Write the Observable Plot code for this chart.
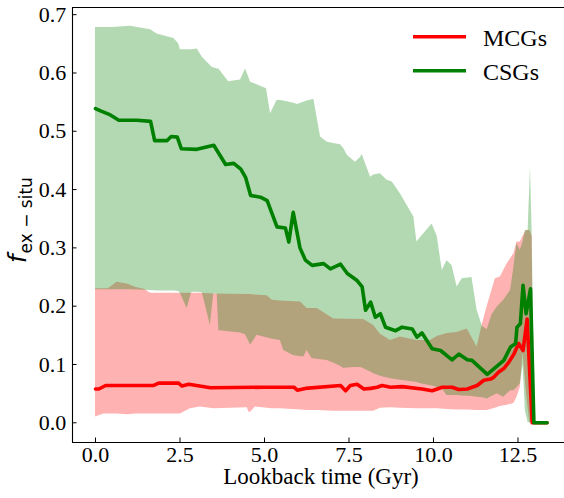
<!DOCTYPE html>
<html>
<head>
<meta charset="utf-8">
<script src="https://cdn.jsdelivr.net/npm/d3@7"></script>
<script src="https://cdn.jsdelivr.net/npm/@observablehq/plot@0.6"></script>
<style>
  html, body { margin: 0; padding: 0; background: white; }
  #chart { width: 564px; height: 498px; }
</style>
</head>
<body>
<div id="chart"></div>
<script>
// ---------- data ----------
const seriesNames = ["MCGs", "CSGs"];
const seriesColors = ["#ff0000", "#008000"];

const xTicks = [0, 2.5, 5, 7.5, 10, 12.5];
const yTicks = [0, 0.1, 0.2, 0.3, 0.4, 0.5, 0.6, 0.7];
const xLabel = "Lookback time (Gyr)";

// MCGs median
const mcgX = [0, 0.1, 0.3, 1.72, 1.87, 2.46, 2.56, 2.76, 3.4, 4.98,
  5.87, 5.97, 6.21, 7.25, 7.40, 7.54, 7.74, 7.94, 8.14, 8.33,
  8.48, 8.73, 9.07, 9.66, 9.96, 10.26, 10.55, 10.75, 11.0, 11.29,
  11.49, 11.69, 11.78, 11.93, 12.08, 12.23, 12.38, 12.52, 12.65, 12.77,
  12.92, 13.36];
const mcgMedian = [0.058, 0.058, 0.064, 0.064, 0.068, 0.068, 0.063, 0.066, 0.060, 0.061,
  0.061, 0.056, 0.059, 0.064, 0.055, 0.064, 0.066, 0.058, 0.059, 0.061,
  0.064, 0.061, 0.062, 0.058, 0.055, 0.061, 0.061, 0.057, 0.058, 0.064,
  0.073, 0.075, 0.078, 0.087, 0.093, 0.104, 0.118, 0.136, 0.124, 0.178,
  0.000, 0.000];

// CSGs median
const csgX = [0, 0.15, 0.44, 0.69, 1.23, 1.63, 1.75, 2.12, 2.24, 2.42,
  2.54, 3.0, 3.5, 3.85, 4.09, 4.3, 4.44, 4.59, 4.88, 5.08,
  5.37, 5.62, 5.72, 5.85, 6.05, 6.21, 6.41, 6.75, 6.95, 7.25,
  7.45, 7.74, 7.89, 7.99, 8.14, 8.28, 8.43, 8.58, 8.88, 9.07,
  9.37, 9.51, 9.66, 9.96, 10.21, 10.55, 10.75, 11.0, 11.14, 11.59,
  11.88, 12.08, 12.28, 12.43, 12.47, 12.57, 12.65, 12.74, 12.87, 12.97,
  13.36];
const csgMedian = [0.539, 0.535, 0.528, 0.519, 0.519, 0.517, 0.484, 0.484, 0.491, 0.490,
  0.470, 0.469, 0.476, 0.443, 0.445, 0.435, 0.421, 0.390, 0.387, 0.381,
  0.336, 0.334, 0.310, 0.361, 0.300, 0.279, 0.270, 0.273, 0.264, 0.272,
  0.256, 0.244, 0.233, 0.193, 0.207, 0.181, 0.187, 0.164, 0.158, 0.164,
  0.161, 0.147, 0.154, 0.127, 0.124, 0.108, 0.118, 0.108, 0.107, 0.083,
  0.097, 0.107, 0.130, 0.136, 0.164, 0.170, 0.236, 0.187, 0.230, 0.000,
  0.000];

// MCGs scatter band
const mcgBandX = [0, 0.25, 0.38, 0.64, 0.94, 1.2, 1.45, 1.63, 2.12, 2.51,
  2.81, 3.1, 3.5, 4.49, 4.54, 4.59, 4.73, 5.08, 5.23, 5.47,
  6.07, 6.26, 6.56, 7.05, 7.94, 8.23, 8.43, 8.73, 9.02, 9.51,
  9.91, 10.11, 10.40, 10.70, 11.0, 11.29, 11.45, 11.59, 11.83, 11.98,
  12.18, 12.38, 12.47, 12.57, 12.65, 12.75, 12.85, 12.92, 12.97, 13.36];
const mcgLow = [0.010, 0.015, 0.015, 0.015, 0.014, 0.015, 0.015, 0.015, 0.015, 0.015,
  0.024, 0.027, 0.024, 0.026, 0.018, 0.018, 0.027, 0.025, 0.024, 0.024,
  0.022, 0.021, 0.021, 0.020, 0.020, 0.020, 0.025, 0.026, 0.025, 0.024,
  0.024, 0.024, 0.023, 0.022, 0.022, 0.021, 0.021, 0.021, 0.025, 0.028,
  0.030, 0.033, 0.044, 0.061, 0.120, 0.050, 0.000, 0.000, 0.000, 0.000];
const mcgHigh = [0.230, 0.230, 0.230, 0.241, 0.238, 0.232, 0.229, 0.222, 0.222, 0.222,
  0.222, 0.222, 0.221, 0.220, 0.220, 0.220, 0.219, 0.218, 0.210, 0.209,
  0.207, 0.196, 0.196, 0.178, 0.177, 0.167, 0.152, 0.141, 0.147, 0.141,
  0.141, 0.148, 0.153, 0.155, 0.161, 0.130, 0.170, 0.200, 0.247, 0.250,
  0.273, 0.290, 0.310, 0.310, 0.320, 0.330, 0.330, 0.320, 0.000, 0.000];

// CSGs scatter band
const csgBandX = [0, 0.5, 1.04, 1.63, 1.82, 2.32, 2.46, 2.51, 2.71, 2.85,
  3.01, 3.16, 3.4, 3.45, 3.5, 3.6, 3.65, 3.94, 4.29, 4.44,
  4.59, 4.78, 5.06, 5.18, 5.37, 5.47, 5.57, 5.87, 5.97, 6.16,
  6.26, 6.41, 6.46, 6.66, 6.86, 7.05, 7.25, 7.35, 7.45, 7.69,
  7.84, 7.89, 8.14, 8.23, 8.43, 8.63, 8.78, 9.02, 9.42, 9.51,
  9.62, 9.96, 10.11, 10.26, 10.4, 10.55, 10.70, 10.85, 11.14, 11.29,
  11.45, 11.59, 11.73, 11.88, 12.08, 12.28, 12.38, 12.47, 12.57, 12.65,
  12.72, 12.8, 12.87, 12.92, 13.0, 13.36];
const csgLow = [0.228, 0.228, 0.228, 0.227, 0.226, 0.226, 0.225, 0.222, 0.196, 0.224,
  0.224, 0.223, 0.167, 0.195, 0.221, 0.221, 0.158, 0.156, 0.154, 0.151,
  0.133, 0.150, 0.146, 0.144, 0.142, 0.141, 0.124, 0.115, 0.114, 0.113,
  0.124, 0.110, 0.110, 0.108, 0.107, 0.102, 0.097, 0.093, 0.094, 0.095,
  0.095, 0.094, 0.087, 0.084, 0.080, 0.077, 0.075, 0.073, 0.070, 0.069,
  0.067, 0.063, 0.061, 0.058, 0.047, 0.047, 0.047, 0.046, 0.045, 0.044,
  0.043, 0.041, 0.045, 0.050, 0.044, 0.055, 0.055, 0.060, 0.067, 0.100,
  0.020, 0.000, 0.000, 0.000, 0.000, 0.000];
const csgHigh = [0.678, 0.678, 0.680, 0.674, 0.667, 0.659, 0.650, 0.640, 0.640, 0.640,
  0.641, 0.627, 0.613, 0.610, 0.609, 0.607, 0.607, 0.585, 0.588, 0.607,
  0.584, 0.580, 0.573, 0.530, 0.553, 0.553, 0.552, 0.548, 0.546, 0.550,
  0.552, 0.554, 0.555, 0.490, 0.481, 0.479, 0.477, 0.470, 0.459, 0.447,
  0.455, 0.460, 0.421, 0.425, 0.427, 0.416, 0.413, 0.393, 0.353, 0.310,
  0.318, 0.341, 0.320, 0.261, 0.278, 0.270, 0.233, 0.247, 0.249, 0.193,
  0.165, 0.160, 0.185, 0.198, 0.210, 0.227, 0.267, 0.307, 0.296, 0.310,
  0.330, 0.330, 0.438, 0.324, 0.000, 0.000];

// ---------- checks ----------
function check(name, a, b) { if (a.length !== b.length) throw new Error(name + " length mismatch " + a.length + " vs " + b.length); }
check("mcg", mcgX, mcgMedian); check("csg", csgX, csgMedian);
check("mcgLow", mcgBandX, mcgLow); check("mcgHigh", mcgBandX, mcgHigh);
check("csgLow", csgBandX, csgLow); check("csgHigh", csgBandX, csgHigh);

// ---------- tables ----------
const mcgLine = mcgX.map((x, i) => ({x, y: mcgMedian[i]}));
const csgLine = csgX.map((x, i) => ({x, y: csgMedian[i]}));
const mcgBand = mcgBandX.map((x, i) => ({x, lo: mcgLow[i], hi: mcgHigh[i]}));
const csgBand = csgBandX.map((x, i) => ({x, lo: csgLow[i], hi: csgHigh[i]}));

const xDomain = [-0.68, 13.876];
const yDomain = [-0.0338, 0.7123];
const serif = "Liberation Serif";
const fmt = d3.format(".1f");

const plot = Plot.plot({
  width: 564,
  height: 498,
  marginTop: 7,
  marginBottom: 56,
  marginLeft: 72,
  marginRight: 0,
  x: {domain: xDomain},
  y: {domain: yDomain},
  style: {fontFamily: serif, fontSize: "22px", color: "black", background: "white", overflow: "visible"},
  marks: [
    Plot.areaY(mcgBand, {x: "x", y1: "lo", y2: "hi", fill: seriesColors[0], fillOpacity: 0.3}),
    Plot.areaY(csgBand, {x: "x", y1: "lo", y2: "hi", fill: seriesColors[1], fillOpacity: 0.3}),
    Plot.line(mcgLine, {x: "x", y: "y", stroke: seriesColors[0], strokeWidth: 3.6}),
    Plot.line(csgLine, {x: "x", y: "y", stroke: seriesColors[1], strokeWidth: 3.6}),
    Plot.ruleY([yDomain[1]], {stroke: "black", strokeWidth: 1.1}),
    Plot.ruleY([yDomain[0]], {stroke: "black", strokeWidth: 1.1}),
    Plot.ruleX([xDomain[0]], {stroke: "black", strokeWidth: 1.1}),
    Plot.axisX(xTicks, {tickSize: -4.5, tickPadding: 8.5, tickFormat: fmt, label: null, fontSize: 22, fontFamily: serif}),
    Plot.axisY(yTicks, {tickSize: -4.5, tickPadding: 10.8, tickFormat: fmt, label: null, fontSize: 22, fontFamily: serif})
  ]
});

const svg = d3.select(plot);
// x-axis title
svg.append("text")
  .attr("x", 321).attr("y", 484)
  .attr("text-anchor", "middle")
  .attr("font-family", serif).attr("font-size", 23).attr("fill", "black")
  .text(xLabel);

// y-axis title: f_{ex - situ}
const yt = svg.append("text")
  .attr("transform", "translate(26,220) rotate(-90)")
  .attr("text-anchor", "middle")
  .attr("font-family", "DejaVu Sans")
  .attr("fill", "black");
yt.append("tspan").attr("font-size", 24).attr("font-style", "italic").text("f");
yt.append("tspan").attr("font-size", 17).attr("dy", 6).attr("dx", 1).text("ex − situ");

// legend
const legend = svg.append("g");
seriesNames.forEach((name, i) => {
  const yy = 36.7 + i * 34;
  legend.append("line")
    .attr("x1", 413).attr("x2", 466).attr("y1", yy).attr("y2", yy)
    .attr("stroke", seriesColors[i]).attr("stroke-width", 3.6);
  legend.append("text")
    .attr("x", 483).attr("y", yy + 9)
    .attr("text-anchor", "start")
    .attr("font-family", serif).attr("font-size", 24).attr("fill", "black")
    .text(name);
});

document.getElementById("chart").appendChild(plot);
</script>
</body>
</html>
